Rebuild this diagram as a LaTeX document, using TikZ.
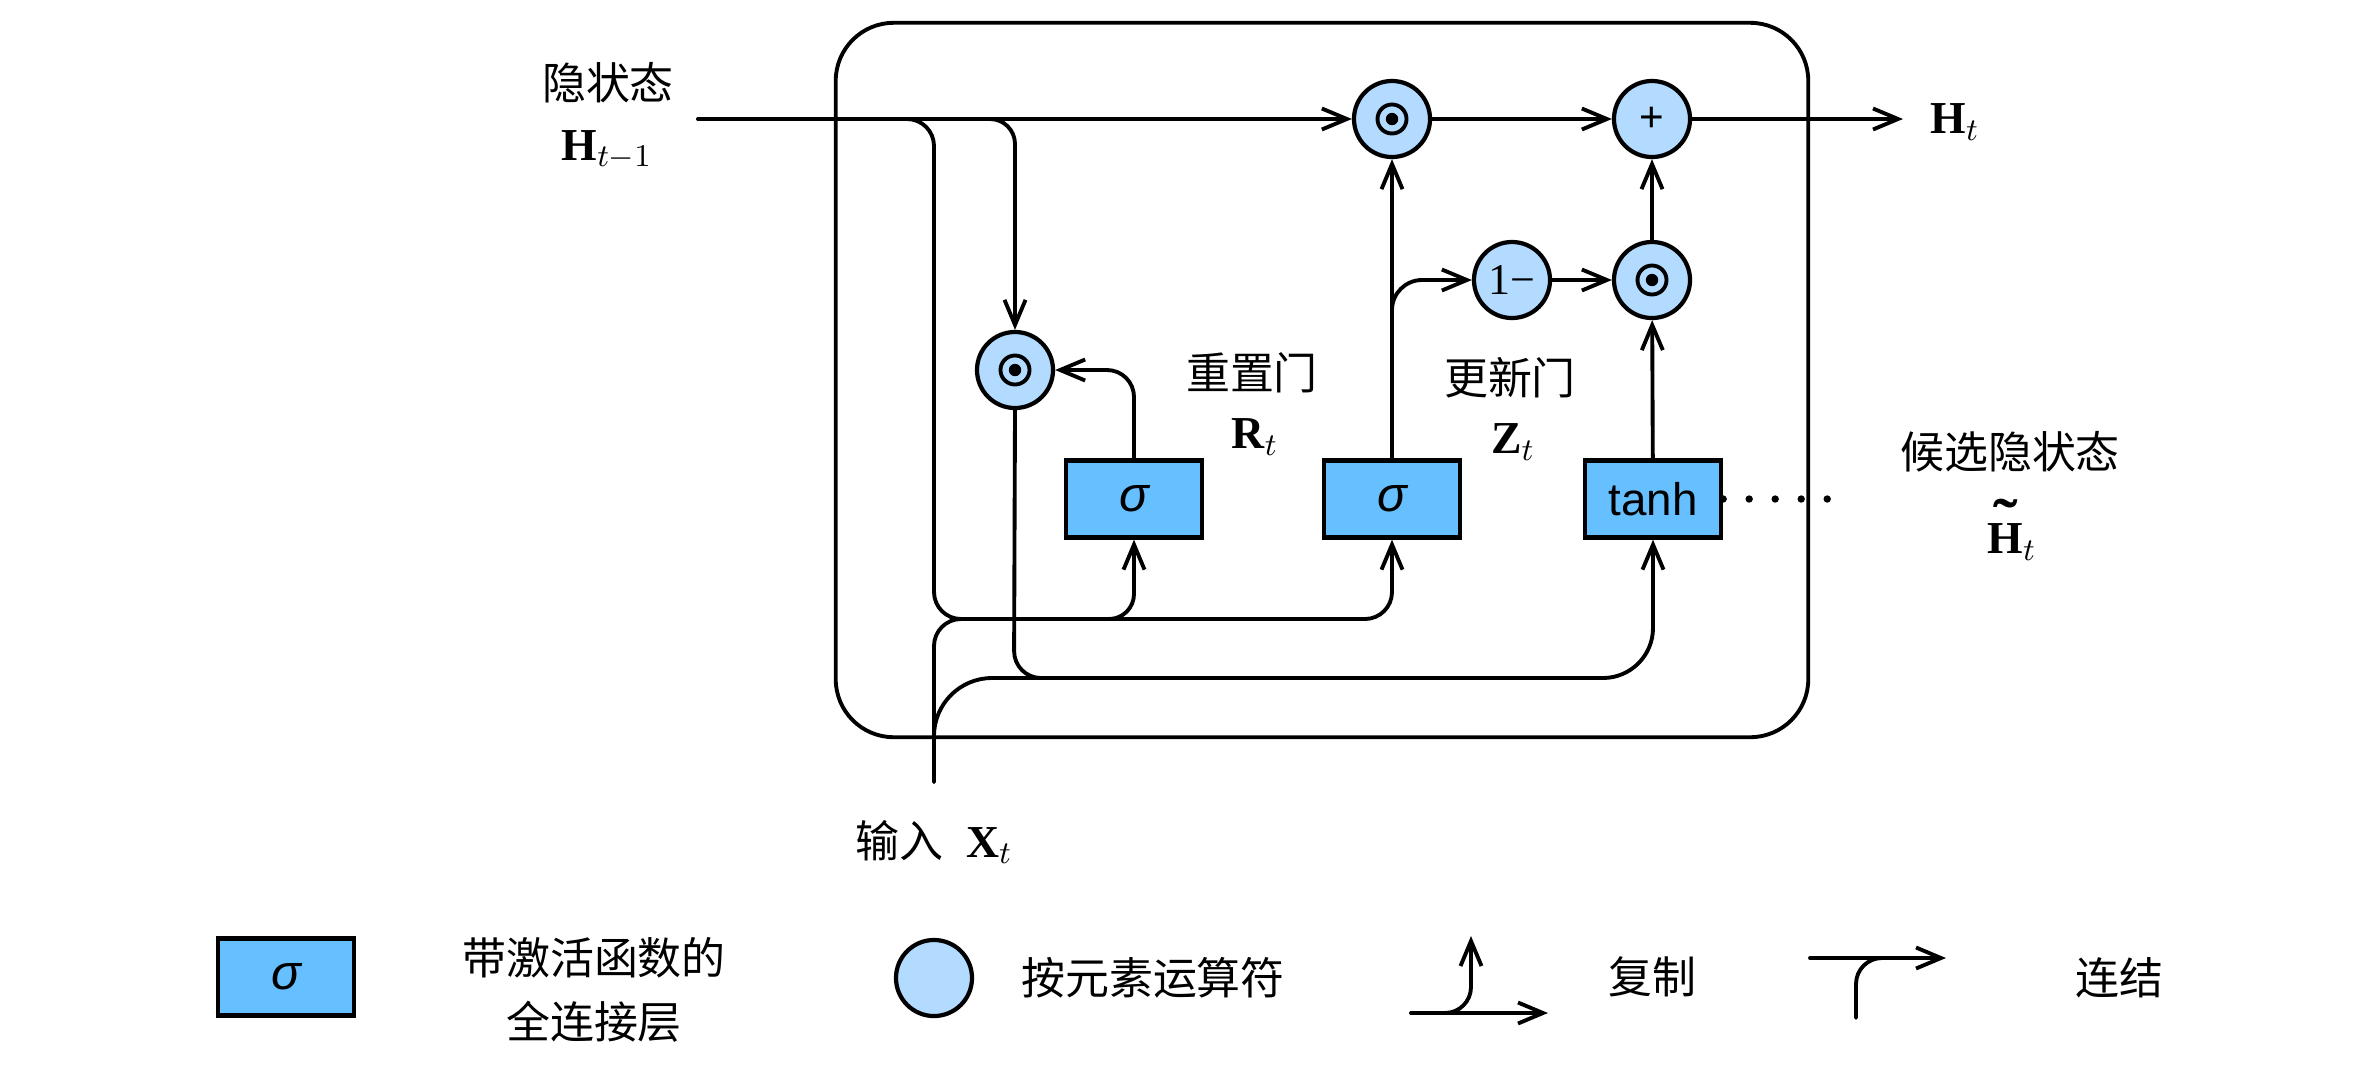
\documentclass[tikz,border=0pt]{standalone}
\usepackage{fontspec}
\setmainfont{Liberation Serif}
\setsansfont{Liberation Sans}
\newfontfamily\zh{Noto Sans CJK SC}
\usetikzlibrary{arrows.meta}
\definecolor{boxblue}{RGB}{102,191,255}
\definecolor{circblue}{RGB}{179,218,255}
\newcommand\tildeH{\textbf{\ooalign{H\cr\hidewidth\raisebox{0.3em}{\scalebox{1.6}[1.3]{\char"02DC}}\hidewidth\cr}}}
\begin{document}
\begin{tikzpicture}[x=0.01cm,y=-0.01cm,
  line/.style={line width=1.1pt,line cap=round},
  conn/.style={line width=1.1pt,line cap=round,-{Straight Barb[length=2.5mm,width=2.1mm]}},
  op/.style={circle,draw,line width=1.2pt,fill=circblue,minimum size=0.76cm,inner sep=0pt},
  fc/.style={rectangle,draw,line width=1.2pt,fill=boxblue,minimum width=1.36cm,minimum height=0.77cm,inner sep=0pt,font=\sffamily\fontsize{13}{15}\selectfont},
  zhl/.style={font=\zh\fontsize{12.5}{15}\selectfont,inner sep=0pt},
  mth/.style={font=\fontsize{13}{15}\selectfont,inner sep=0pt},
  dots/.style={line width=2.1pt,line cap=round,dash pattern=on 0pt off 0.26cm}]
\useasboundingbox (0,0) rectangle (2354,1066);

% cell frame
\node[draw,line width=1.1pt,rounded corners=0.58cm,minimum width=9.72cm,minimum height=7.14cm,inner sep=0pt] (cell) at (1322,380) {};

% operators
\node[op] (odT) at (1392,119) {};
\node[op,font=\sffamily\fontsize{12}{14}\selectfont] (plus) at (1652,119) {+};
\node[op,font=\fontsize{12.5}{14}\selectfont] (om) at (1512,280) {1−};
\node[op] (odM) at (1652,280) {};
\node[op] (odL) at (1015,370) {};
\foreach \n in {odT,odM,odL}{
  \draw[line width=1.1pt] (\n) circle (0.145cm);
  \fill (\n) circle (0.062cm);
}

% layers
\node[fc,font=\sffamily\itshape\fontsize{14}{16}\selectfont] (s1) at (1134,499) {σ};
\node[fc,font=\sffamily\itshape\fontsize{14}{16}\selectfont] (s2) at (1392,499) {σ};
\node[fc] (th) at (1653,499) {tanh};

% coordinates
\coordinate (hin) at (698,119);
\coordinate (hout) at (1903,119);
\coordinate (xin) at (934,782);
\coordinate (j1) at (934,619);
\coordinate (j1r) at (961,619);
\coordinate (j1e) at (1000,619);
\coordinate (j2) at (934,678);
\coordinate (k2) at (1014,678);
\coordinate (k2e) at (1080,678);
\coordinate (zb) at (1392,345);
\coordinate (dotend) at (1852,499);

% hidden state line
\draw[conn] (hin) -- (odT);
% copy of H to gates
\draw[line,rounded corners=0.27cm] (hin) -- (hin -| j1) -- (j1) -- (j1e);
% X into gates
\draw[line,rounded corners=0.27cm] (xin) -- (j1) -- (j1e);
% bus to sigma gates
\draw[conn,rounded corners=0.25cm] (j1r) -- (j1 -| s1) -- (s1.south);
\draw[conn,rounded corners=0.27cm] (j1r) -- (j1 -| s2) -- (s2.south);
% copy of H to reset product
\draw[conn,rounded corners=0.25cm] (hin) -- (hin -| odL) -- (odL.north);
% reset gate into product
\draw[conn,rounded corners=0.27cm] (s1.north) -- (s1.north |- odL) -- (odL.east);
% R*H down to tanh bus
\draw[line,rounded corners=0.27cm] (odL.south) -- (k2) -- (k2e);
% X into tanh bus
\draw[line,rounded corners=0.58cm] (xin) -- (j2) -- (k2e);
% tanh bus
\draw[conn,rounded corners=0.5cm] (k2) -- (k2 -| th) -- (th.south);
% update gate
\draw[conn] (s2.north) -- (odT.south);
\draw[conn,rounded corners=0.3cm] (zb) -- (zb |- om) -- (om.west);
\draw[conn] (om) -- (odM);
\draw[conn] (th) -- (odM);
\draw[conn] (odM) -- (plus);
\draw[conn] (odT) -- (plus);
\draw[conn] (plus) -- (hout);
\draw[dots] (th.east) -- (dotend);

% labels
\node[zhl] (lhid) at (608,83) {隐状态};
\node[mth] (lh) at (607,150) {\textbf{H}$_{t-1}$};
\node[mth] (lht) at (1955,122) {\textbf{H}$_t$};
\node[zhl] (lr) at (1252,373) {重置门};
\node[mth] (lrt) at (1255,437) {\textbf{R}$_t$};
\node[zhl] (lz) at (1510,378) {更新门};
\node[mth] (lzt) at (1513,442) {\textbf{Z}$_t$};
\node[zhl] (lc) at (2010,452) {候选隐状态};
\node[mth] (lct) at (2012,542) {\tildeH$_t$};
\node[mth] (lx) at (934,842) {{\zh\fontsize{12.5}{15}\selectfont 输入}\enspace\textbf{X}$_t$};

% legend
\node[fc,font=\sffamily\itshape\fontsize{14}{16}\selectfont] (lgbox) at (286,977) {σ};
\node[zhl,align=center,font=\zh\fontsize{12.5}{18.4}\selectfont] (lgt1) at (594,990) {带激活函数的\\全连接层};
\node[op] (lgop) at (934,978) {};
\node[zhl] (lgt2) at (1153,978) {按元素运算符};
\coordinate (cpa) at (1411,1013);
\coordinate (cpb) at (1548,1013);
\coordinate (cpc) at (1471,936);
\draw[conn] (cpa) -- (cpb);
\draw[conn,rounded corners=0.26cm] (cpa) -- (cpa -| cpc) -- (cpc);
\node[zhl] (lgt3) at (1652,977) {复制};
\coordinate (cca) at (1810,958);
\coordinate (ccb) at (1946,958);
\coordinate (ccc) at (1856,1018);
\coordinate (ccd) at (1910,958);
\draw[conn] (cca) -- (ccb);
\draw[line,rounded corners=0.26cm] (ccc) -- (ccc |- cca) -- (ccd);
\node[zhl] (lgt4) at (2119,978) {连结};
\end{tikzpicture}
\end{document}
